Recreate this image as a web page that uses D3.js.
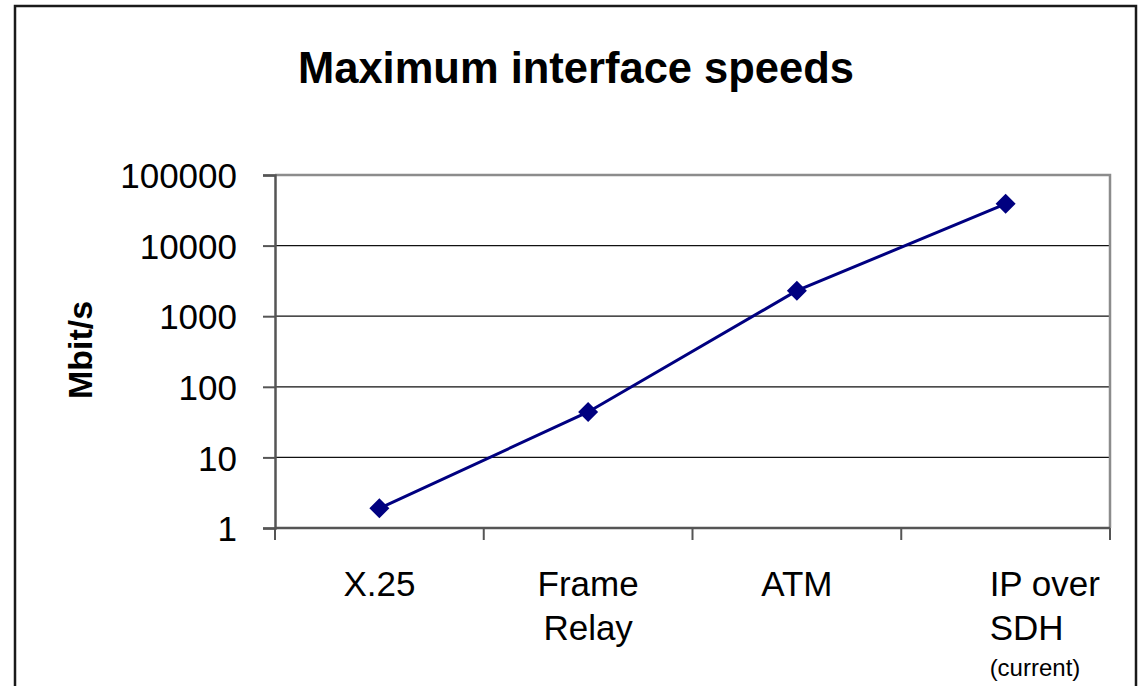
<!DOCTYPE html>
<html>
    <head>
        <meta charset="UTF-8">
        <script src="https://d3js.org/d3.v7.min.js"></script>
        <style>
            body { margin: 0; background: #fff; }
            text { font-family: "Liberation Sans", Arial, Helvetica, sans-serif; fill: #000; }
        </style>
    </head>

    <body>

        <svg id="canvas"></svg>

        <script>

            // data
            categories = ["X.25", "Frame Relay", "ATM", "IP over SDH"];
            catLines = [["X.25"], ["Frame", "Relay"], ["ATM"], ["IP over", "SDH"]];
            speeds = [1.9, 44, 2300, 39000];
            yTicks = [1, 10, 100, 1000, 10000, 100000];

            width = 1140;
            height = 686;
            margin = {left: 275, right: 30, top: 175, bottom: 158}

            canvas = d3.select("#canvas")
                .attr("width", width)
                .attr("height", height)

            // outer frame (bottom edge is off the page)
            canvas.append("path")
                .attr("d", "M15,700 V6 H1136 V700")
                .attr("fill", "none")
                .attr("stroke", "#1a1a1a")
                .attr("stroke-width", 2.5)

            canvas.append("text")
                .attr("x", 576)
                .attr("y", 83)
                .attr("text-anchor", "middle")
                .attr("font-weight", "bold")
                .attr("font-size", 43.5)
                .text("Maximum interface speeds")

            x = d3.scaleBand()
                .domain(categories)
                .range([margin.left, width - margin.right])

            y = d3.scaleLog()
                .domain([1, 100000])
                .range([height - margin.bottom, margin.top])

            chart = canvas.append("g")

            // grid lines
            chart.selectAll(".grid")
                .data(yTicks.slice(1, -1))
                .enter().append("line")
                    .attr("x1", margin.left)
                    .attr("x2", width - margin.right)
                    .attr("y1", d => y(d))
                    .attr("y2", d => y(d))
                    .attr("stroke", "#111")
                    .attr("stroke-width", 1.2)

            // plot frame top/right in grey
            chart.append("path")
                .attr("d", "M" + margin.left + "," + y(100000) + " H" + (width - margin.right) + " V" + y(1))
                .attr("fill", "none")
                .attr("stroke", "#8c8c8c")
                .attr("stroke-width", 2.5)

            yAxis = d3.axisLeft(y)
                .tickValues(yTicks)
                .tickFormat(d3.format("d"))
                .tickSize(12)
                .tickPadding(26)

            gy = chart.append("g")
                .attr("transform", "translate(" + margin.left + ",0)")
                .call(yAxis)
            gy.select(".domain").attr("stroke", "#555").attr("stroke-width", 2.5)
            gy.selectAll(".tick line").attr("stroke", "#555").attr("stroke-width", 2)
            gy.selectAll(".tick text")
                .attr("font-size", 35)
                .attr("font-family", "Liberation Sans, Arial, sans-serif")
                .attr("fill", "#000")
                .attr("dy", "0.36em")

            // x axis: ticks at band edges
            chart.append("line")
                .attr("x1", margin.left)
                .attr("x2", width - margin.right)
                .attr("y1", y(1))
                .attr("y2", y(1))
                .attr("stroke", "#555")
                .attr("stroke-width", 2.5)

            edges = categories.map(d => x(d)).concat([x(categories[3]) + x.bandwidth()])
            chart.selectAll(".xtick")
                .data(edges)
                .enter().append("line")
                    .attr("x1", d => d)
                    .attr("x2", d => d)
                    .attr("y1", y(1))
                    .attr("y2", y(1) + 12)
                    .attr("stroke", "#555")
                    .attr("stroke-width", 2)

            // category labels
            labels = chart.selectAll(".xlabel")
                .data(categories)
                .enter().append("text")
                    .attr("font-size", 35)
                    .attr("text-anchor", (d, i) => i == 3 ? "start" : "middle")
                    .attr("transform", (d, i) => "translate(" + (x(d) + x.bandwidth() / 2 + (i == 3 ? -16 : 0)) + ",596)")

            labels.selectAll("tspan")
                .data((d, i) => catLines[i])
                .enter().append("tspan")
                    .attr("x", 0)
                    .attr("y", (d, j) => j * 44)
                    .text(d => d)

            canvas.append("text")
                .attr("x", x(categories[3]) + x.bandwidth() / 2 - 16)
                .attr("y", 676)
                .attr("font-size", 24)
                .text("(current)")

            canvas.append("text")
                .attr("transform", "translate(92,350) rotate(-90)")
                .attr("text-anchor", "middle")
                .attr("font-weight", "bold")
                .attr("font-size", 34)
                .text("Mbit/s")

            // series line + diamond markers
            line = d3.line()
                .x((d, i) => x(categories[i]) + x.bandwidth() / 2)
                .y(d => y(d))

            chart.append("path")
                .datum(speeds)
                .attr("d", line)
                .attr("fill", "none")
                .attr("stroke", "#000080")
                .attr("stroke-width", 3)

            chart.selectAll(".pt")
                .data(speeds)
                .enter().append("path")
                    .attr("d", d3.symbol().type(d3.symbolSquare).size(200))
                    .attr("transform", (d, i) => "translate(" + (x(categories[i]) + x.bandwidth() / 2) + "," + y(d) + ") rotate(45)")
                    .attr("fill", "#000080")

        </script>

    </body>

</html>
